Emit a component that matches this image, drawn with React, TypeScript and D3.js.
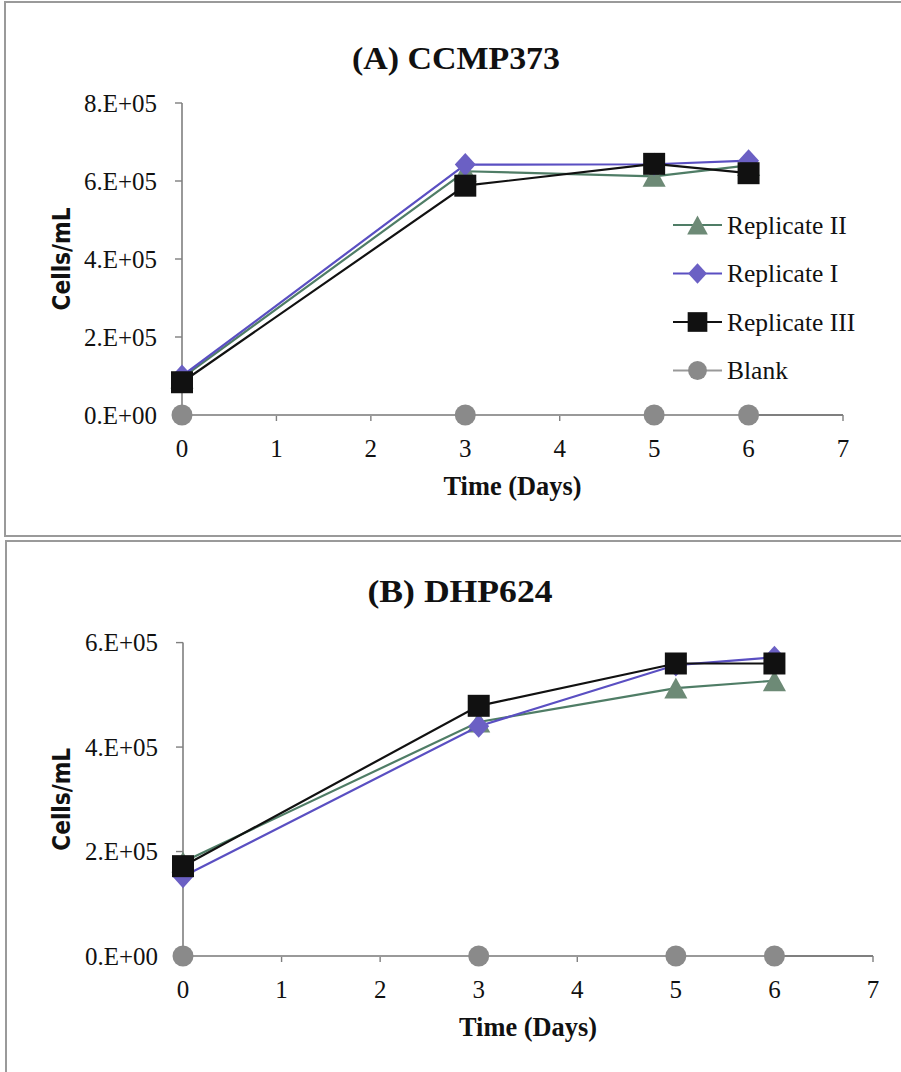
import React from "react";
import * as d3 from "d3";

// ---------- data ----------
const days = [0, 3, 5, 6];
const xTicks = [0, 1, 2, 3, 4, 5, 6, 7];

const ccmpRepII = [0.95e5, 6.25e5, 6.12e5, 6.4e5];
const ccmpRepI = [1.0e5, 6.42e5, 6.43e5, 6.52e5];
const ccmpRepIII = [0.84e5, 5.88e5, 6.44e5, 6.2e5];
const ccmpBlank = [0, 0, 0, 0];
const ccmpYTicks = [0, 2e5, 4e5, 6e5, 8e5];
const ccmpYTickLabels = ["0.E+00", "2.E+05", "4.E+05", "6.E+05", "8.E+05"];

const dhpRepII = [1.8e5, 4.48e5, 5.13e5, 5.27e5];
const dhpRepI = [1.52e5, 4.4e5, 5.57e5, 5.72e5];
const dhpRepIII = [1.72e5, 4.79e5, 5.6e5, 5.6e5];
const dhpBlank = [0, 0, 0, 0];
const dhpYTicks = [0, 2e5, 4e5, 6e5];
const dhpYTickLabels = ["0.E+00", "2.E+05", "4.E+05", "6.E+05"];

const seriesNames = ["Replicate II", "Replicate I", "Replicate III", "Blank"];

// ---------- styles ----------
type Shape = "triangle" | "diamond" | "square" | "circle";
const seriesStyle: { line: string; fill: string; shape: Shape }[] = [
  { line: "#4f7d66", fill: "#6d8a76", shape: "triangle" },
  { line: "#5a4fc2", fill: "#6b60c4", shape: "diamond" },
  { line: "#111111", fill: "#111111", shape: "square" },
  { line: "#999999", fill: "#8a8a8a", shape: "circle" },
];

const symbolTypes: Record<Shape, d3.SymbolType> = {
  triangle: {
    draw(ctx, size) {
      const w = Math.sqrt(size);
      ctx.moveTo(0, -w * 0.5);
      ctx.lineTo(w * 0.55, w * 0.5);
      ctx.lineTo(-w * 0.55, w * 0.5);
      ctx.closePath();
    },
  },
  diamond: {
    draw(ctx, size) {
      const w = Math.sqrt(size) / 2;
      ctx.moveTo(0, -w * 1.1);
      ctx.lineTo(w, 0);
      ctx.lineTo(0, w * 1.1);
      ctx.lineTo(-w, 0);
      ctx.closePath();
    },
  },
  square: d3.symbolSquare,
  circle: d3.symbolCircle,
};
const symbolSize: Record<Shape, number> = {
  triangle: 21 * 21,
  diamond: 21 * 21,
  square: 22 * 22,
  circle: Math.PI * 10.5 * 10.5,
};

const serif = "'Liberation Serif', 'Times New Roman', serif";
const sans = "'DejaVu Sans', Verdana, sans-serif";

type PanelProps = {
  title: string;
  titleX: number;
  titleY: number;
  titleLen: number;
  series: number[][];
  yTicks: number[];
  yTickLabels: string[];
  yMax: number;
  x0: number;
  x1: number;
  yTop: number;
  yBottom: number;
  legend: boolean;
};

function Panel(p: PanelProps) {
  const x = d3.scaleLinear().domain([0, 7]).range([p.x0, p.x1]);
  const y = d3.scaleLinear().domain([0, p.yMax]).range([p.yBottom, p.yTop]);
  const line = d3
    .line<[number, number]>()
    .x((d) => x(d[0]))
    .y((d) => y(d[1]));
  const axisColor = "#7f7f7f";
  const drawOrder = [3, 0, 1, 2];
  return (
    <g>
      <text
        x={p.titleX}
        y={p.titleY}
        textAnchor="middle"
        dy="0.35em"
        fontFamily={serif}
        fontWeight="bold"
        fontSize={32}
        textLength={p.titleLen}
        lengthAdjust="spacingAndGlyphs"
        fill="#111"
      >
        {p.title}
      </text>
      {/* y axis */}
      <line x1={p.x0} x2={p.x0} y1={p.yTop} y2={p.yBottom} stroke={axisColor} strokeWidth={1.6} />
      {p.yTicks.map((t, i) => (
        <g key={"yt" + i}>
          <line x1={p.x0 - 7} x2={p.x0} y1={y(t)} y2={y(t)} stroke={axisColor} strokeWidth={1.4} />
          <text
            x={p.x0 - 25}
            y={y(t)}
            dy="0.35em"
            textAnchor="end"
            fontFamily={serif}
            fontSize={25}
            textLength={73}
            lengthAdjust="spacingAndGlyphs"
            fill="#111"
          >
            {p.yTickLabels[i]}
          </text>
        </g>
      ))}
      {/* x axis */}
      <line x1={p.x0} x2={p.x1} y1={p.yBottom} y2={p.yBottom} stroke={axisColor} strokeWidth={2} />
      {xTicks.map((t) => (
        <g key={"xt" + t}>
          <line x1={x(t)} x2={x(t)} y1={p.yBottom} y2={p.yBottom + 6} stroke={axisColor} strokeWidth={1.4} />
          <text
            x={x(t)}
            y={p.yBottom + 33}
            dy="0.35em"
            textAnchor="middle"
            fontFamily={serif}
            fontSize={25}
            fill="#111"
          >
            {t}
          </text>
        </g>
      ))}
      <text
        x={(p.x0 + p.x1) / 2}
        y={p.yBottom + 71}
        dy="0.35em"
        textAnchor="middle"
        fontFamily={serif}
        fontWeight="bold"
        fontSize={27}
        textLength={138}
        lengthAdjust="spacingAndGlyphs"
        fill="#111"
      >
        Time (Days)
      </text>
      <text
        transform={`translate(61,${(p.yTop + p.yBottom) / 2}) rotate(-90)`}
        dy="0.35em"
        textAnchor="middle"
        fontFamily={sans}
        fontWeight="bold"
        fontSize={25}
        textLength={103}
        lengthAdjust="spacingAndGlyphs"
        fill="#111"
      >
        Cells/mL
      </text>
      {/* series */}
      {drawOrder.map((si) => {
        const st = seriesStyle[si];
        const pts: [number, number][] = days.map((d, i) => [d, p.series[si][i]]);
        const sym = d3.symbol(symbolTypes[st.shape], symbolSize[st.shape])();
        return (
          <g key={"s" + si}>
            <path d={line(pts) || ""} fill="none" stroke={st.line} strokeWidth={2.2} />
            {pts.map((pt, j) => (
              <path key={j} d={sym || ""} transform={`translate(${x(pt[0])},${y(pt[1])})`} fill={st.fill} />
            ))}
          </g>
        );
      })}
      {p.legend &&
        seriesNames.map((name, i) => {
          const st = seriesStyle[i];
          const ly = 225 + i * 48.5;
          const sym = d3.symbol(symbolTypes[st.shape], symbolSize[st.shape] * 0.8)();
          return (
            <g key={"lg" + i}>
              <line x1={673} x2={722} y1={ly} y2={ly} stroke={st.line} strokeWidth={2.2} />
              <path d={sym || ""} transform={`translate(697.5,${ly})`} fill={st.fill} />
              <text x={727} y={ly} dy="0.35em" fontFamily={serif} fontSize={25.5} fill="#111">
                {name}
              </text>
            </g>
          );
        })}
    </g>
  );
}

export default function App() {
  return (
    <div style={{ position: "absolute", left: 0, top: 0 }}>
      <svg width={901} height={1072} style={{ display: "block", background: "#fff" }}>
        <rect x={0} y={0} width={901} height={1072} fill="#fff" />
        {/* panel frames */}
        <rect x={5} y={2} width={910} height={534} fill="none" stroke="#9a9a9a" strokeWidth={2} />
        <rect x={6} y={541} width={910} height={560} fill="none" stroke="#9a9a9a" strokeWidth={2} />
        <Panel
          title="(A) CCMP373"
          titleX={456}
          titleY={58}
          titleLen={208}
          series={[ccmpRepII, ccmpRepI, ccmpRepIII, ccmpBlank]}
          yTicks={ccmpYTicks}
          yTickLabels={ccmpYTickLabels}
          yMax={8e5}
          x0={182}
          x1={843}
          yTop={103}
          yBottom={415}
          legend={true}
        />
        <Panel
          title="(B) DHP624"
          titleX={460}
          titleY={591}
          titleLen={185}
          series={[dhpRepII, dhpRepI, dhpRepIII, dhpBlank]}
          yTicks={dhpYTicks}
          yTickLabels={dhpYTickLabels}
          yMax={6e5}
          x0={183}
          x1={873}
          yTop={642.6}
          yBottom={956}
          legend={false}
        />
      </svg>
    </div>
  );
}
